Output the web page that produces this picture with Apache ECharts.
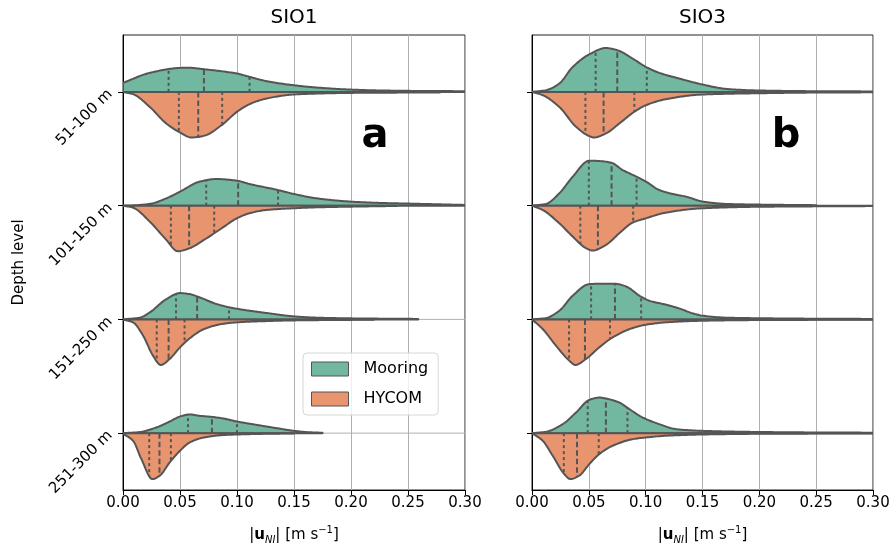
<!DOCTYPE html>
<html>
<head>
<meta charset="utf-8">
<script src="https://cdn.jsdelivr.net/npm/echarts@6/dist/echarts.min.js"></script>
<style>
  html, body { margin: 0; padding: 0; background: #ffffff; }
  #chart { width: 896px; height: 550px; }
</style>
</head>
<body>
<div id="chart"></div>
<script>
// Depth levels (top to bottom)
const depthLevels = ['51-100 m', '101-150 m', '151-250 m', '251-300 m'];
const panelTitles = ['SIO1', 'SIO3'];
const panelLetters = ['a', 'b'];
const sourceNames = ['Mooring', 'HYCOM'];

// Half-violin kernel density profiles: [speed (m/s), half width in category-band units]
const sio1Mooring = [
  [[0, 0.079], [0.0234, 0.167], [0.05, 0.211], [0.056, 0.213], [0.071, 0.199], [0.10, 0.161], [0.111, 0.132], [0.126, 0.094], [0.15, 0.058], [0.17, 0.038], [0.20, 0.020], [0.228, 0.012], [0.25, 0.009], [0.30, 0.006]],
  [[0, 0], [0.01, 0.003], [0.0234, 0.015], [0.038, 0.064], [0.05, 0.123], [0.0673, 0.211], [0.082, 0.234], [0.10, 0.219], [0.111, 0.190], [0.136, 0.137], [0.15, 0.102], [0.17, 0.064], [0.20, 0.035], [0.228, 0.023], [0.25, 0.018], [0.30, 0.006]],
  [[0, 0], [0.0146, 0.015], [0.0234, 0.061], [0.038, 0.178], [0.05, 0.231], [0.0585, 0.222], [0.0673, 0.193], [0.082, 0.135], [0.0937, 0.105], [0.111, 0.076], [0.126, 0.056], [0.15, 0.026], [0.17, 0.015], [0.20, 0.009], [0.259, 0.004]],
  [[0, 0], [0.0146, 0.009], [0.0293, 0.050], [0.041, 0.102], [0.05, 0.146], [0.0585, 0.164], [0.0673, 0.152], [0.0778, 0.143], [0.0878, 0.129], [0.10, 0.102], [0.117, 0.073], [0.1346, 0.044], [0.15, 0.020], [0.161, 0.009], [0.175, 0.003]]
];
const sio1Hycom = [
  [[0, 0], [0.0088, 0.020], [0.0234, 0.132], [0.038, 0.278], [0.05, 0.357], [0.06, 0.401], [0.0711, 0.386], [0.0866, 0.292], [0.10, 0.175], [0.111, 0.108], [0.126, 0.058], [0.15, 0.023], [0.17, 0.015], [0.20, 0.009], [0.278, 0.005]],
  [[0, 0], [0.0088, 0.018], [0.0234, 0.140], [0.038, 0.301], [0.048, 0.401], [0.0585, 0.374], [0.0711, 0.301], [0.0866, 0.199], [0.10, 0.111], [0.111, 0.067], [0.126, 0.038], [0.15, 0.023], [0.17, 0.015], [0.20, 0.009], [0.24, 0.003]],
  [[0, 0], [0.0088, 0.026], [0.0176, 0.143], [0.0263, 0.319], [0.0331, 0.401], [0.041, 0.348], [0.05, 0.246], [0.0585, 0.167], [0.0711, 0.085], [0.0866, 0.041], [0.10, 0.026], [0.126, 0.015], [0.15, 0.009], [0.22, 0.003]],
  [[0, 0.005], [0.0088, 0.067], [0.0161, 0.228], [0.0258, 0.404], [0.0322, 0.374], [0.041, 0.257], [0.05, 0.155], [0.0585, 0.082], [0.0711, 0.038], [0.0866, 0.018], [0.10, 0.012], [0.126, 0.006], [0.15, 0.003]]
];
const sio3Mooring = [
  [[0, 0], [0.0123, 0.015], [0.024, 0.073], [0.0358, 0.219], [0.0504, 0.330], [0.0651, 0.386], [0.0754, 0.365], [0.0886, 0.292], [0.1003, 0.219], [0.112, 0.167], [0.1296, 0.117], [0.1504, 0.064], [0.1707, 0.026], [0.20, 0.012], [0.25, 0.006], [0.30, 0.004]],
  [[0, 0], [0.0123, 0.015], [0.024, 0.108], [0.0358, 0.254], [0.0504, 0.395], [0.0592, 0.392], [0.0698, 0.377], [0.0798, 0.313], [0.092, 0.254], [0.1003, 0.211], [0.112, 0.137], [0.1238, 0.102], [0.1355, 0.079], [0.1504, 0.035], [0.1707, 0.015], [0.20, 0.009], [0.25, 0.004]],
  [[0, 0], [0.0123, 0.012], [0.024, 0.076], [0.0358, 0.208], [0.0504, 0.310], [0.0592, 0.313], [0.0733, 0.313], [0.0827, 0.289], [0.0959, 0.199], [0.1032, 0.164], [0.1179, 0.129], [0.1296, 0.096], [0.1413, 0.053], [0.1504, 0.032], [0.1707, 0.015], [0.20, 0.010], [0.25, 0.006], [0.30, 0.004]],
  [[0, 0], [0.0123, 0.012], [0.027, 0.079], [0.0387, 0.181], [0.0504, 0.292], [0.0592, 0.313], [0.0651, 0.304], [0.0768, 0.269], [0.0836, 0.225], [0.0974, 0.137], [0.112, 0.079], [0.1267, 0.035], [0.1504, 0.020], [0.20, 0.010], [0.25, 0.006], [0.30, 0.004]]
];
const sio3Hycom = [
  [[0, 0], [0.0094, 0.029], [0.024, 0.132], [0.0387, 0.307], [0.0504, 0.389], [0.0543, 0.401], [0.0651, 0.365], [0.0768, 0.278], [0.090, 0.175], [0.1003, 0.117], [0.1179, 0.064], [0.1504, 0.023], [0.20, 0.012], [0.25, 0.006], [0.30, 0.004]],
  [[0, 0], [0.0094, 0.038], [0.024, 0.155], [0.0358, 0.272], [0.0475, 0.374], [0.0534, 0.395], [0.0651, 0.345], [0.0768, 0.243], [0.0886, 0.149], [0.1003, 0.111], [0.1179, 0.061], [0.1504, 0.023], [0.20, 0.010], [0.30, 0.004]],
  [[0, 0], [0.0094, 0.085], [0.0211, 0.231], [0.0328, 0.363], [0.0381, 0.401], [0.0475, 0.348], [0.0592, 0.246], [0.071, 0.158], [0.0886, 0.076], [0.1003, 0.047], [0.1179, 0.026], [0.1504, 0.012], [0.20, 0.006], [0.30, 0.003]],
  [[0, 0], [0.0094, 0.067], [0.0182, 0.199], [0.0284, 0.360], [0.0337, 0.404], [0.0416, 0.374], [0.0504, 0.272], [0.0592, 0.184], [0.071, 0.111], [0.0886, 0.053], [0.1003, 0.038], [0.1179, 0.023], [0.1504, 0.012], [0.20, 0.006], [0.30, 0.003]]
];

// Quartiles per depth level: [Q1, median, Q3] in m/s
const sio1MooringQuartiles = [[0.040, 0.071, 0.111], [0.073, 0.101, 0.136], [0.0465, 0.065, 0.093], [0.057, 0.078, 0.100]];
const sio1HycomQuartiles   = [[0.049, 0.066, 0.087], [0.042, 0.058, 0.080], [0.0296, 0.040, 0.054], [0.023, 0.032, 0.042]];
const sio3MooringQuartiles = [[0.056, 0.075, 0.101], [0.050, 0.070, 0.092], [0.052, 0.073, 0.096], [0.049, 0.065, 0.084]];
const sio3HycomQuartiles   = [[0.047, 0.063, 0.090], [0.0425, 0.058, 0.089], [0.0326, 0.0466, 0.0686], [0.028, 0.0396, 0.0587]];

const FONT = 'DejaVu Sans';
const GREEN = '#72b8a0';
const ORANGE = '#e8956f';
const EDGE = '#555555';
const GRID_GRAY = '#b0b0b0';

// Monotone cubic (Fritsch-Carlson) resampling of a density profile
function smoothProfile(pts, steps) {
  const n = pts.length;
  const xs = pts.map(p => p[0]), ys = pts.map(p => p[1]);
  const d = [], m = new Array(n);
  for (let i = 0; i < n - 1; i++) d.push((ys[i + 1] - ys[i]) / (xs[i + 1] - xs[i]));
  m[0] = d[0]; m[n - 1] = d[n - 2];
  for (let i = 1; i < n - 1; i++) {
    if (d[i - 1] * d[i] <= 0) m[i] = 0;
    else {
      const w1 = 2 * (xs[i + 1] - xs[i]) + (xs[i] - xs[i - 1]);
      const w2 = (xs[i + 1] - xs[i]) + 2 * (xs[i] - xs[i - 1]);
      m[i] = (w1 + w2) / (w1 / d[i - 1] + w2 / d[i]);
    }
  }
  const out = [];
  const x0 = xs[0], x1 = xs[n - 1];
  for (let k = 0; k <= steps; k++) {
    const x = x0 + (x1 - x0) * k / steps;
    let i = 0;
    while (i < n - 2 && x > xs[i + 1]) i++;
    const h = xs[i + 1] - xs[i];
    const t = (x - xs[i]) / h;
    const t2 = t * t, t3 = t2 * t;
    const y = (2 * t3 - 3 * t2 + 1) * ys[i] + (t3 - 2 * t2 + t) * h * m[i]
            + (-2 * t3 + 3 * t2) * ys[i + 1] + (t3 - t2) * h * m[i + 1];
    out.push([x, Math.max(0, y)]);
  }
  return out;
}

function valueAt(profile, x) {
  for (let i = 0; i < profile.length - 1; i++) {
    if (x >= profile[i][0] && x <= profile[i + 1][0]) {
      const t = (x - profile[i][0]) / (profile[i + 1][0] - profile[i][0]);
      return profile[i][1] + t * (profile[i + 1][1] - profile[i][1]);
    }
  }
  return 0;
}

function violinSeries(name, gridIndex, profiles, quartiles, dir, color) {
  const smooth = profiles.map(p => smoothProfile(p, 240));
  return {
    type: 'custom',
    name: name,
    xAxisIndex: gridIndex,
    yAxisIndex: gridIndex,
    z: 3,
    clip: true,
    silent: true,
    itemStyle: { color: color, borderColor: EDGE, borderWidth: 1 },
    data: profiles.map((p, i) => [p[0][0], depthLevels[i]]),
    encode: { x: 0, y: 1 },
    renderItem: function (params, api) {
      const row = params.dataIndex;
      const prof = smooth[row];
      const band = api.size([0, 1])[1];
      const base = api.coord([0, row])[1];
      const poly = [[api.coord([prof[0][0], row])[0], base]];
      prof.forEach(p => poly.push([api.coord([p[0], row])[0], base + dir * p[1] * band]));
      poly.push([api.coord([prof[prof.length - 1][0], row])[0], base]);
      const children = [{
        type: 'polygon',
        shape: { points: poly },
        style: { fill: color, stroke: EDGE, lineWidth: 2, lineJoin: 'round' }
      }];
      quartiles[row].forEach((q, k) => {
        const px = api.coord([q, row])[0];
        const h = valueAt(prof, q) * band;
        children.push({
          type: 'line',
          shape: { x1: px, y1: base, x2: px, y2: base + dir * h },
          style: { stroke: EDGE, lineWidth: 2, lineDash: k === 1 ? [5.5, 3] : [3, 3] }
        });
      });
      return { type: 'group', children: children };
    }
  };
}

// Horizontal reference line at each depth level
function levelLineSeries(gridIndex) {
  return {
    type: 'custom',
    xAxisIndex: gridIndex,
    yAxisIndex: gridIndex,
    z: 1,
    silent: true,
    data: depthLevels.map((lvl) => [0, lvl]),
    encode: { x: 0, y: 1 },
    renderItem: function (params, api) {
      const a = api.coord([0, params.dataIndex]);
      const b = api.coord([0.30, params.dataIndex]);
      return { type: 'line', shape: { x1: a[0], y1: a[1], x2: b[0], y2: b[1] }, style: { stroke: GRID_GRAY, lineWidth: 1 } };
    }
  };
}

const gridBoxes = [
  { left: 123, top: 35, width: 342, height: 455 },
  { left: 532, top: 35, width: 341, height: 455 }
];

const xAxes = gridBoxes.map((g, i) => ({
  type: 'value', gridIndex: i, min: 0, max: 0.3, interval: 0.05,
  axisLine: { show: true, lineStyle: { color: '#000', width: 1 } },
  axisTick: { show: true, length: 5, lineStyle: { color: '#000' } },
  axisLabel: { fontFamily: FONT, fontSize: 15, color: '#000', margin: 6, formatter: v => v.toFixed(2) },
  splitLine: { show: true, lineStyle: { color: GRID_GRAY, width: 1 } },
  name: '|{b|u}{sub|NI}| [m s{sup|\u22121}]',
  nameLocation: 'middle', nameGap: 35,
  nameTextStyle: {
    fontFamily: FONT, fontSize: 15, color: '#000', lineHeight: 20,
    rich: {
      b: { fontFamily: FONT, fontSize: 15, fontWeight: 'bold', color: '#000', lineHeight: 20 },
      sub: { fontFamily: FONT, fontSize: 10, fontStyle: 'italic', color: '#000', verticalAlign: 'bottom', lineHeight: 14 },
      sup: { fontFamily: FONT, fontSize: 10, color: '#000', verticalAlign: 'top', lineHeight: 14 }
    }
  }
}));

const yAxes = gridBoxes.map((g, i) => ({
  type: 'category', gridIndex: i, data: depthLevels, inverse: true,
  axisLine: { show: true, lineStyle: { color: '#000', width: 1 } },
  axisTick: { show: true, alignWithLabel: true, length: 5, lineStyle: { color: '#000' } },
  axisLabel: { show: i === 0, rotate: 45, fontFamily: FONT, fontSize: 15, color: '#000', margin: 13 },
  splitLine: { show: false },
  name: i === 0 ? 'Depth level' : '',
  nameLocation: 'middle', nameGap: 96,
  nameTextStyle: { fontFamily: FONT, fontSize: 15, color: '#000' }
}));

const series = [
  levelLineSeries(0),
  levelLineSeries(1),
  violinSeries(sourceNames[0], 0, sio1Mooring, sio1MooringQuartiles, -1, GREEN),
  violinSeries(sourceNames[1], 0, sio1Hycom, sio1HycomQuartiles, 1, ORANGE),
  violinSeries(sourceNames[0], 1, sio3Mooring, sio3MooringQuartiles, -1, GREEN),
  violinSeries(sourceNames[1], 1, sio3Hycom, sio3HycomQuartiles, 1, ORANGE)
];

const chart = echarts.init(document.getElementById('chart'), null, { renderer: 'canvas' });
chart.setOption({
  animation: false,
  backgroundColor: '#ffffff',
  grid: gridBoxes.map(g => Object.assign({ show: true, borderColor: '#222', borderWidth: 1, backgroundColor: 'transparent', containLabel: false }, g)),
  xAxis: xAxes,
  yAxis: yAxes,
  legend: {
    data: [
      { name: sourceNames[0], itemStyle: { color: GREEN, borderColor: EDGE, borderWidth: 1 } },
      { name: sourceNames[1], itemStyle: { color: ORANGE, borderColor: EDGE, borderWidth: 1 } }
    ],
    orient: 'vertical', left: 303, top: 353, icon: 'rect',
    itemWidth: 37, itemHeight: 14, itemGap: 14,
    padding: [8, 10, 8, 8],
    backgroundColor: 'rgba(255,255,255,0.8)', borderColor: '#d6d6d6', borderWidth: 1, borderRadius: 4,
    textStyle: { fontFamily: FONT, fontSize: 16, color: '#000', padding: [0, 0, 0, 10] },
    selectedMode: false, z: 10
  },
  graphic: [
    ...panelTitles.map((t, i) => ({
      type: 'text', x: gridBoxes[i].left + gridBoxes[i].width / 2, y: 18,
      style: { text: t, fontFamily: FONT, fontSize: 20, fill: '#000', align: 'center', verticalAlign: 'middle' }
    })),
    ...panelLetters.map((t, i) => ({
      type: 'text', x: [375, 786][i], y: 137, z: 20,
      style: { text: t, fontFamily: FONT, fontSize: 40, fontWeight: 'bold', fill: '#000', align: 'center', verticalAlign: 'middle' }
    }))
  ],
  series: series
});
</script>
</body>
</html>
